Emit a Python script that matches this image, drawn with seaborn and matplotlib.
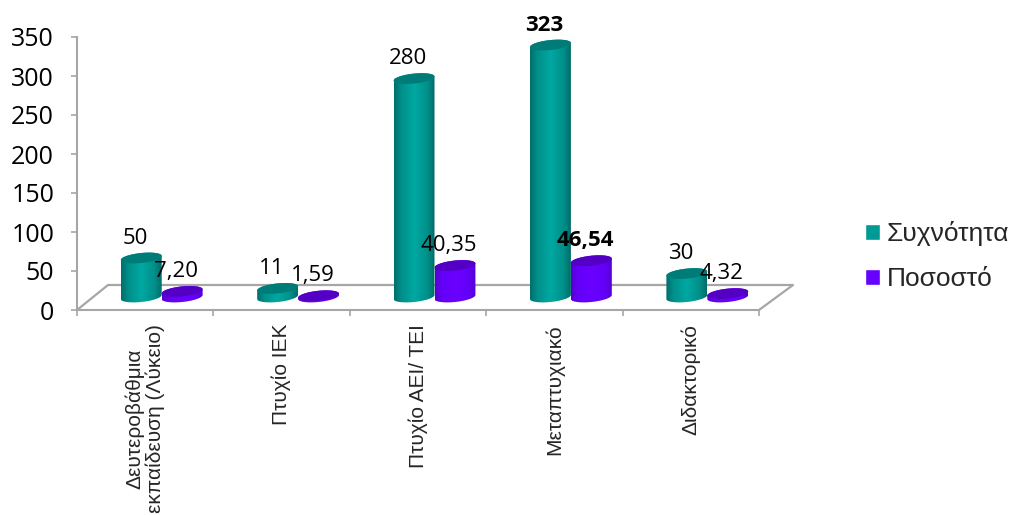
import numpy as np
import pandas as pd
import matplotlib
matplotlib.use("Agg")
import matplotlib.pyplot as plt
from matplotlib.path import Path
from matplotlib.patches import PathPatch
from matplotlib.lines import Line2D
from matplotlib.colors import LinearSegmentedColormap
import seaborn as sns

categories = ["Δευτεροβάθμια\nεκπαίδευση (Λύκειο)", "Πτυχίο ΙΕΚ", "Πτυχίο ΑΕΙ/ ΤΕΙ", "Μεταπτυχιακό", "Διδακτορικό"]
frequency = [50, 11, 280, 323, 30]
percent = [7.20, 1.59, 40.35, 46.54, 4.32]
series_names = ["Συχνότητα", "Ποσοστό"]
yticks = [0, 50, 100, 150, 200, 250, 300, 350]

W, H = 1011, 515
GREY = "#a6a6a6"
NUM_FONT = "Open Sans"
TXT_FONT = "Liberation Sans"

sns.set_theme(style="white")
plt.rcParams["font.family"] = [TXT_FONT, "DejaVu Sans"]

df = pd.DataFrame({
    "cat": categories * 2,
    "series": [series_names[0]] * 5 + [series_names[1]] * 5,
    "value": frequency + percent,
})

fig = plt.figure(figsize=(W / 100, H / 100), dpi=100, facecolor="white")
L, R, T, B = 77, 759, 37, 310
DX, DY = 16.5, 13
XLIM, YLIM = (-0.5, 4.5), (0, 350)
PXX = (R - L) / (XLIM[1] - XLIM[0])
PXY = (B - T) / (YLIM[1] - YLIM[0])
YLIM2 = (-30, 350)  # room below the zero line for the rounded cylinder bases

ax = fig.add_axes([L / W, (H - B) / H, (R - L) / W, (B - T) / H])
ax.patch.set_alpha(0)
ax2 = fig.add_axes([(L + DX) / W, (H - B + DY + YLIM2[0] * PXY) / H, (R - L) / W,
                    (YLIM2[1] - YLIM2[0]) * PXY / H], zorder=3)
ax2.patch.set_alpha(0)

palette = {series_names[0]: "#009a95", series_names[1]: "#6600ff"}
sns.barplot(data=df, x="cat", y="value", hue="series", palette=palette, width=0.6, saturation=1,
            gap=0, dodge=True, errorbar=None, ax=ax2, legend=True)
handles, labels = ax2.get_legend_handles_labels()
ax2.get_legend().remove()

ax2.set_xlim(XLIM)
ax2.set_ylim(YLIM2)
ax2.axis("off")

# base axes
ax.set_xlim(XLIM)
ax.set_ylim(YLIM)
for s in ("top", "right"):
    ax.spines[s].set_visible(False)
for s in ("left", "bottom"):
    ax.spines[s].set_color(GREY)
    ax.spines[s].set_linewidth(1.5)
ax.set_yticks(yticks)
ax.set_yticklabels([str(v) for v in yticks], fontsize=18, color="black", family=NUM_FONT)
ax.tick_params(axis="y", which="major", direction="out", length=4.5, width=1.2, color=GREY, left=True, pad=12)
ax.set_xticks(np.arange(-0.5, 5, 1))
ax.set_xticklabels([])
ax.tick_params(axis="x", which="major", direction="out", length=4.5, width=1.2, color=GREY, bottom=True)
ax.set_xticks(np.arange(5), minor=True)
ax.set_xticklabels(categories, minor=True, rotation=90, fontsize=15, ha="center", va="top",
                   multialignment="center", linespacing=1.1)
ax.tick_params(axis="x", which="minor", length=0, pad=10)

# floor of the 3D plot
floor_x = [0, 31, 716, 682]
floor_y = [0, 25, 25, 0]
ax.add_line(Line2D([(L + a) / W for a in floor_x], [(H - B + b) / H for b in floor_y],
                   transform=fig.transFigure, color=GREY, lw=1.6, clip_on=False, zorder=2))

# cylinders, built from the bars seaborn placed
BODY = {
    "#009a95": LinearSegmentedColormap.from_list(
        "t", [(0, "#006e6b"), (0.18, "#008f8a"), (0.5, "#00a8a2"), (0.82, "#008f8a"), (1, "#006a67")]),
    "#6600ff": LinearSegmentedColormap.from_list(
        "p", [(0, "#5500d0"), (0.18, "#6400f8"), (0.5, "#6a00ff"), (0.82, "#6400f8"), (1, "#5500d0")]),
}
TOP = {"#009a95": "#007c78", "#6600ff": "#5400c4"}
grad = np.linspace(0, 1, 256).reshape(1, -1)
t_bottom = np.linspace(np.pi, 2 * np.pi, 60)
t_top = np.linspace(0, np.pi, 60)
t_full = np.linspace(0, 2 * np.pi, 120)
B_PX, TILT = 5.0, 0.10

bars = [p for p in ax2.patches if p.get_height() > 0]
for p in sorted(bars, key=lambda q: q.get_x()):
    key = matplotlib.colors.to_hex(p.get_facecolor())
    x0, w, h = p.get_x(), p.get_width(), p.get_height()
    cx = x0 + w / 2
    a = w / 2
    b = B_PX / PXY

    def ell(t, y0):
        return cx + a * np.cos(t), y0 + b * np.sin(t) + TILT * (a * PXX / PXY) * np.cos(t)

    xb, yb = ell(t_bottom, 0)
    xt, yt = ell(t_top, h)
    verts = np.column_stack([np.r_[xb, xt], np.r_[yb, yt]])
    clip = PathPatch(Path(np.vstack([verts, verts[0]]), closed=True), transform=ax2.transData,
                     facecolor="none", edgecolor="none")
    ax2.add_patch(clip)
    im = ax2.imshow(grad, extent=[x0, x0 + w, YLIM2[0], h + 30], cmap=BODY[key], aspect="auto", zorder=4,
                    interpolation="bilinear")
    im.set_clip_path(clip)
    xe, ye = ell(t_full, h)
    ax2.fill(xe, ye, color=TOP[key], zorder=4, lw=0, clip_on=False)
    p.set_visible(False)
ax2.set_xlim(XLIM)
ax2.set_ylim(YLIM2)

# data labels
n = len(categories)
for k, (p, val) in enumerate(zip(bars, frequency + percent)):
    is_freq = k < n
    txt = f"{val}" if is_freq else f"{val:.2f}".replace(".", ",")
    bold = categories[k % n] == "Μεταπτυχιακό"
    ax2.annotate(txt, (p.get_x() + p.get_width() / 2, p.get_height()),
                 xytext=(-6 * 0.72, 20 * 0.72), textcoords="offset points", ha="center", va="center",
                 fontsize=16, color="black", family=NUM_FONT, fontweight="bold" if bold else "normal",
                 zorder=6, annotation_clip=False)

leg = fig.legend(handles, labels, loc="upper left", bbox_to_anchor=(865 / W, 1 - 221 / H), frameon=False,
                 fontsize=19, handlelength=0.55, handleheight=0.55, handletextpad=0.28, labelspacing=0.8,
                 borderaxespad=0, borderpad=0)
for t in leg.get_texts():
    t.set_family(TXT_FONT)

fig.savefig("out.png", dpi=100, facecolor="white")
